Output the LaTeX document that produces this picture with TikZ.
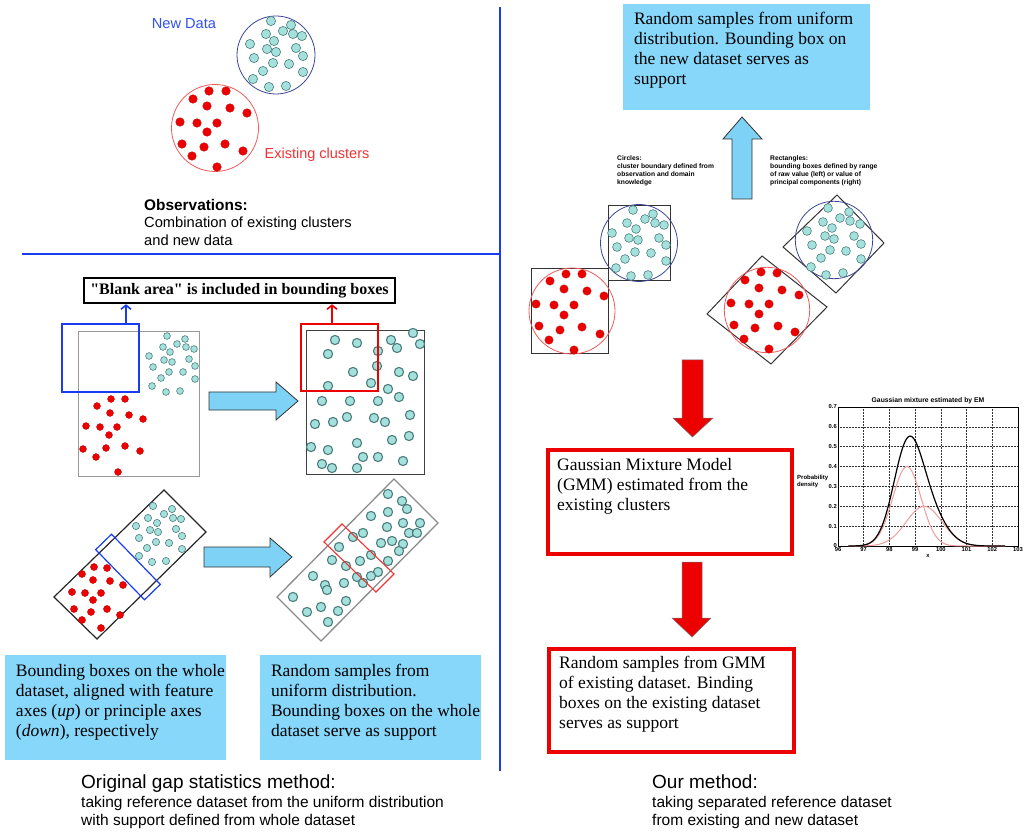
\documentclass[tikz,border=0pt]{standalone}
\usepackage{fontspec}
\setmainfont{Liberation Serif}
\newfontfamily\arial{Liberation Sans}
\newfontfamily\plainserif{Liberation Serif}[Ligatures=TeXOff]
\usetikzlibrary{arrows.meta}
\definecolor{lblue}{RGB}{135,215,250}
\definecolor{arrowblue}{RGB}{125,210,245}
\definecolor{cyanf}{RGB}{165,225,220}
\definecolor{cyane}{RGB}{75,125,125}
\definecolor{dred}{RGB}{236,0,0}
\definecolor{lineblue}{RGB}{25,60,240}
\definecolor{txtblue}{RGB}{50,80,240}
\definecolor{txtred}{RGB}{240,50,50}
\definecolor{circred}{RGB}{240,90,90}
\definecolor{circblue}{RGB}{60,70,150}
\definecolor{pinkc}{RGB}{242,155,155}
\begin{document}
\begin{tikzpicture}[x=1pt,y=-1pt,
  cdot/.style={fill=cyanf, draw=cyane, line width=0.6pt},
  cdotb/.style={fill=cyanf, draw=cyane, line width=1.1pt},
  rdot/.style={fill=dred, draw=dred!80!black, line width=0.3pt},
  blockarrow/.style={fill=arrowblue, draw=black!80, line width=0.8pt},
  redarrow/.style={fill=dred, draw=black!55, line width=0.5pt},
  bluefill/.style={fill=lblue, draw=none, inner sep=0pt},
  redbox/.style={draw=dred, line width=4pt, inner sep=0pt},
  boxtext/.style={font=\fontsize{17.5}{20}\selectfont, align=left, inner sep=0pt, anchor=north west},
  captitle/.style={font=\arial\fontsize{19}{22}\selectfont, inner sep=0pt, anchor=base west},
  capbody/.style={font=\arial\fontsize{15.5}{18}\selectfont, align=left, inner sep=0pt, anchor=north west},
  smalltext/.style={font=\arial\bfseries\fontsize{6.7}{8}\selectfont, align=left, inner sep=0pt, anchor=north west},
  ticklab/.style={font=\arial\bfseries\fontsize{5.8}{6.5}\selectfont, inner sep=1pt},
  gridst/.style={densely dotted, line width=0.5pt, black!80},
  openarrow/.style={-{Straight Barb[length=4pt,width=10pt]}}
]
\useasboundingbox (0,0) rectangle (1026,834);

% ---------- separators
\coordinate (vtop) at (500,7);
\coordinate (vbot) at (500,771);
\coordinate (hl) at (22,254);
\coordinate (hr) at (500,254);
\draw[lineblue, line width=2.5pt] (vtop) -- (vbot);
\draw[lineblue, line width=2.5pt] (hl) -- (hr);

% ---------- top-left observations
\draw[circblue, line width=0.8pt] (276,55) circle (39);
\draw[circred, line width=0.8pt] (215,128) circle (43.5);
\foreach \p in {(271,21),(291,25),(283,31),(266,34),(293,34),(302,36),(274,41),(250,44),(296,48),(267,49),(276,52),(254,58),(303,56),(273,63),(289,64),(263,71),(303,72),(253,79),(269,87),(286,86)}
  \filldraw[cdot] \p circle (4.6);
\foreach \p in {(209,91),(226,91),(193,99),(207,106),(230,108),(247,113),(180,122),(197,123),(217,123),(207,132),(182,144),(204,147),(225,144),(243,151),(192,156),(217,167)}
  \filldraw[rdot] \p circle (4.3);
\node[font=\arial\fontsize{14.6}{17}\selectfont, text=txtblue, inner sep=0] (newdata) at (184,24) {New Data};
\node[font=\arial\fontsize{14.5}{17}\selectfont, text=txtred, inner sep=0] (exist) at (317,155) {Existing clusters};
\node[font=\arial\bfseries\fontsize{15.4}{18}\selectfont, inner sep=0, anchor=base west] (obs) at (144,210.5) {Observations:};
\node[font=\arial\fontsize{14.7}{18}\selectfont, inner sep=0, align=left, anchor=north west] (obsb) at (144,217) {Combination of existing clusters\\and new data};

% ---------- "Blank area" label
\node[draw, line width=2.5pt, minimum width=311, minimum height=25, inner sep=0,
  font=\plainserif\bfseries\fontsize{16}{19}\selectfont] (blank) at (239.5,290.5) {"Blank area" is included in bounding boxes};

% ---------- left upright boxes
\node[draw=black!40, line width=1.2pt, minimum width=121, minimum height=145, inner sep=0] (lbox) at (139,404) {};
\foreach \p in {(167,336),(177,344),(185,339),(186,347),(194,349),(163,347),(170,352),(149,356),(164,360),(172,362),(189,359),(195,366),(153,367),(169,372),(183,372),(161,378),(195,379),(152,386),(166,392),(180,391)}
  \filldraw[cdot] \p circle (3.4);
\foreach \p in {(111,399),(125,399),(97,406),(110,413),(129,415),(143,419),(86,426),(100,427),(117,427),(109,435),(83,449),(106,448),(125,446),(140,451),(96,457),(118,472)}
  \filldraw[rdot] \p circle (3.5);
\node[draw=lineblue, line width=2.5pt, minimum width=77, minimum height=68, inner sep=0] (bluebox) at (100.5,358) {};
\draw[lineblue, line width=1.6pt, openarrow] (bluebox.north -| 126,0) -- (blank.south -| 126,0);

\draw[blockarrow] (209,392) -- (276,392) -- (276,382) -- (298,401) -- (276,420) -- (276,410) -- (209,410) -- cycle;

\node[draw=black!75, line width=1.3pt, minimum width=118, minimum height=144, inner sep=0] (rbox) at (365.5,402.5) {};
\foreach \p in {(335,340),(357,343),(391,340),(413,333),(420,344),(328,354),(378,351),(397,348),(377,366),(353,372),(399,372),(413,376),(328,386),(371,383),(388,389),(322,401),(350,401),(378,401),(399,397),(347,417),(374,418),(385,422),(410,415),(315,424),(333,422),(311,447),(328,450),(357,443),(392,440),(409,436),(363,457),(378,457),(403,461),(322,464),(332,468),(357,468)}
  \filldraw[cdotb] \p circle (4.6);
\node[draw=dred, line width=2.5pt, minimum width=77, minimum height=67, inner sep=0] (redsq) at (339.5,357.5) {};
\draw[dred, line width=1.6pt, openarrow] (redsq.north -| 332,0) -- (blank.south -| 332,0);

% ---------- left rotated boxes
\draw[black!85, line width=1.2pt] (54,597) -- (164,490) -- (206,532) -- (97,639) -- cycle;
\foreach \p in {(153,506),(172,509),(164,514),(148,518),(173,518),(181,519),(157,523),(136,526),(150,530),(158,532),(176,529),(139,538),(182,536),(156,542),(169,543),(147,548),(182,549),(139,556),(152,562),(166,561)}
  \filldraw[cdot] \p circle (3.6);
\foreach \p in {(82,574),(94,567),(107,568),(93,580),(110,581),(123,585),(72,592),(85,593),(101,593),(93,600),(74,609),(91,612),(107,609),(120,615),(82,620),(101,628)}
  \filldraw[rdot] \p circle (3.6);
\draw[lineblue, line width=1.2pt] (95.7,549.6) -- (111.5,534.2) -- (160.3,584.4) -- (144.5,599.8) -- cycle;

\draw[blockarrow] (204,547) -- (270,547) -- (270,538) -- (292,557) -- (270,577) -- (270,567) -- (204,567) -- cycle;

\draw[black!45, line width=1.3pt] (277,597) -- (394,479) -- (438,523) -- (321,641) -- cycle;
\foreach \p in {(388,494),(402,501),(407,509),(388,512),(371,516),(420,523),(403,523),(387,527),(363,533),(409,533),(417,533),(353,537),(392,541),(381,543),(403,544),(399,551),(339,547),(371,555),(360,561),(332,560),(346,566),(388,561),(378,572),(371,576),(357,577),(313,576),(344,583),(363,583),(325,585),(327,590),(293,597),(346,601),(321,607),(338,611),(307,612),(328,622)}
  \filldraw[cdotb] \p circle (4.6);
\draw[dred!80, line width=1.1pt] (324,542) -- (342,524) -- (394,574) -- (376,592) -- cycle;

% ---------- left text boxes
\node[bluefill, minimum width=221, minimum height=105] (lb1) at (115.5,707.5) {};
\node[boxtext] (lb1t) at ([xshift=11pt,yshift=-9pt]lb1.north west) {Bounding boxes on the whole\\dataset, aligned with feature\\axes (\textit{up}) or principle axes\\(\textit{down}), respectively};
\node[bluefill, minimum width=221, minimum height=105] (lb2) at (370.5,707.5) {};
\node[boxtext] (lb2t) at ([xshift=11pt,yshift=-9pt]lb2.north west) {Random samples from\\uniform distribution.\\Bounding boxes on the whole\\dataset serve as support};

\node[captitle] (cap1) at (81,788) {Original gap statistics method:};
\node[capbody] (cap1b) at (81,796) {taking reference dataset from the uniform distribution\\with support defined from whole dataset};

% ---------- right side
\node[bluefill, minimum width=247, minimum height=106] (tbox) at (746.5,57) {};
\node[boxtext] (tboxt) at ([xshift=11pt,yshift=-8pt]tbox.north west) {Random samples from uniform\\distribution. Bounding box on\\the new dataset serves as\\support};
\draw[blockarrow] (732,199) -- (732,139) -- (723,139) -- (742,117) -- (762,139) -- (752,139) -- (752,199) -- cycle;

\node[smalltext] (circ) at (617,155) {Circles:\\cluster boundary defined from\\observation and domain\\knowledge};
\node[smalltext] (rect) at (770,155) {Rectangles:\\bounding boxes defined by range\\of raw value (left) or value of\\principal components (right)};

% left pair (axis aligned)
\node[draw=black!80, line width=1pt, minimum width=77, minimum height=85, inner sep=0] (sqr) at (569.5,311.5) {};
\node[draw=black!80, line width=1pt, minimum width=62, minimum height=75, inner sep=0] (sqb) at (639,243.5) {};
\draw[circred, line width=0.8pt] (572,311) circle (43);
\draw[circblue, line width=0.8pt] (639,243) circle (38.5);
\foreach \p in {(633,210),(653,214),(645,219),(627,223),(655,223),(664,225),(636,229),(612,233),(629,238),(638,240),(659,238),(617,247),(666,245),(635,252),(651,253),(625,259),(666,261),(616,268),(631,276),(648,275)}
  \filldraw[cdot] \p circle (4.4);
\foreach \p in {(566,274),(582,274),(550,281),(564,289),(587,291),(604,296),(536,304),(554,305),(574,305),(564,315),(539,326),(560,330),(582,327),(600,334),(549,340),(574,350)}
  \filldraw[rdot] \p circle (4.2);

% right pair (rotated)
\draw[black!80, line width=1pt] (707,314) -- (762,256) -- (827,307) -- (771,364) -- cycle;
\draw[black!80, line width=1pt] (783,247) -- (837,195) -- (884,243) -- (836,293) -- cycle;
\draw[circred, line width=0.8pt] (767,310) circle (42.7);
\draw[circblue, line width=0.8pt] (834,240) circle (38.7);
\foreach \p in {(828,208),(849,212),(840,218),(823,222),(850,221),(860,224),(832,228),(807,231),(825,236),(834,239),(854,236),(812,245),(861,244),(830,250),(846,251),(821,258),(861,259),(811,267),(826,275),(843,273)}
  \filldraw[cdot] \p circle (4.4);
\foreach \p in {(761,272),(777,273),(745,280),(759,288),(782,290),(799,295),(731,303),(749,304),(769,304),(759,314),(734,325),(755,328),(778,326),(795,332),(744,339),(769,349)}
  \filldraw[rdot] \p circle (4.2);

% red arrows and boxes
\draw[redarrow] (682,360) -- (703,360) -- (703,418) -- (713,418) -- (692.5,437) -- (673,418) -- (682,418) -- cycle;
\node[redbox, minimum width=244, minimum height=104] (gmm) at (670,502) {};
\node[boxtext] (gmmt) at ([xshift=11pt,yshift=-10pt]gmm.north west) {Gaussian Mixture Model\\(GMM) estimated from the\\existing clusters};
\draw[redarrow] (682,562) -- (702,562) -- (702,618) -- (711,618) -- (692,637) -- (672,618) -- (682,618) -- cycle;
\node[redbox, minimum width=245, minimum height=103] (rs) at (671.5,700.5) {};
\node[boxtext] (rst) at ([xshift=12pt,yshift=-9pt]rs.north west) {Random samples from GMM\\of existing dataset. Binding\\boxes on the existing dataset\\serves as support};

\node[captitle] (cap2) at (652,788) {Our method:};
\node[capbody] (cap2b) at (652,796) {taking separated reference dataset\\from existing and new dataset};

% ---------- chart
\begin{scope}[shift={(838,546)}, x=25.714pt, y=198.57pt]
  \foreach \i in {1,...,6} \draw[gridst] (\i,0) -- (\i,0.7);
  \foreach \j in {0.1,0.2,0.3,0.4,0.5,0.6} \draw[gridst] (0,\j) -- (7,\j);
  \draw[line width=0.6pt] (0,0) rectangle (7,0.7);
  \foreach \i/\l in {0/96,1/97,2/98,3/99,4/100,5/101,6/102,7/103} \node[ticklab, below] at (\i,0) {\l};
  \foreach \j/\l in {0/0,0.1/0.1,0.2/0.2,0.3/0.3,0.4/0.4,0.5/0.5,0.6/0.6,0.7/0.7} \node[ticklab, left] at (0,\j) {\l};
  \node[ticklab, below=7pt] (xlab) at (3.5,0) {x};
  \node[font=\arial\bfseries\fontsize{6.8}{7}\selectfont, above=2.5pt, inner sep=0] (ctitle) at (3.5,0.7) {Gaussian mixture estimated by EM};
  \draw[pinkc, line width=1pt] plot[domain=96.4:102.5, samples=90, smooth] ({\x-96},{0.4*exp(-((\x-98.68)^2)/0.605)});
  \draw[pinkc, line width=1pt] plot[domain=96.4:102.5, samples=90, smooth] ({\x-96},{0.2*exp(-((\x-99.35)^2)/0.98)});
  \draw[black, line width=1.2pt] plot[domain=96.4:102.5, samples=90, smooth] ({\x-96},{1.03*(0.4*exp(-((\x-98.68)^2)/0.605)+0.2*exp(-((\x-99.35)^2)/0.98))});
\end{scope}
\node[font=\arial\bfseries\fontsize{6}{7}\selectfont, align=left, inner sep=0, anchor=west] (prob) at (797,481) {Probability\\density};

\end{tikzpicture}
\end{document}
